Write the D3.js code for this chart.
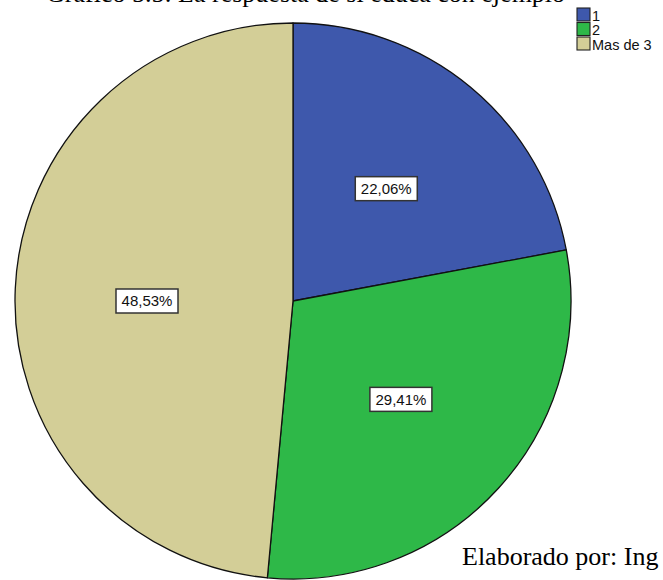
<!DOCTYPE html>
<html>
<head>
<meta charset="utf-8">
<script src="https://cdn.jsdelivr.net/npm/d3@7"></script>
<style>
  body { margin: 0; background: #fff; }
</style>
</head>
<body>
<div id="chart"></div>
<script>
////////////////////////////////////////////////////////////////////////
// Data

let categories = ["1", "2", "Mas de 3"];
let percents = [22.06, 29.41, 48.53];
let labels = ["22,06%", "29,41%", "48,53%"];
let titleText = "Gráfico 5.5: La respuesta de si educa con ejemplo";
let footerText = "Elaborado por: Ing";

////////////////////////////////////////////////////////////////////////
// Layout

let width = 663;
let height = 580;
let cx = 293, cy = 301, radius = 278;
let labelRadius = 146;
// SPSS put the big slice's label level with the centre
let labelAngleOverride = { "Mas de 3": 3 * Math.PI / 2 };

let colormap = d3.scaleOrdinal(categories, ["#3E58AC", "#2EB848", "#D3CE97"]);

let svg = d3.select("#chart")
  .append("svg")
  .attr("width", width).attr("height", height);

// title, clipped by the top of the page
svg.append("text")
  .attr("x", 46)
  .attr("y", 2)
  .style("font-family", "'Liberation Serif', 'Times New Roman', serif")
  .style("font-size", "26px")
  .text(titleText);

////////////////////////////////////////////////////////////////////////
// Pie

let pie = d3.pie()
  .value(function(d) { return d.value; })
  .sort(null);

let slices = pie(categories.map(function(c, i) {
  return { name: c, value: percents[i], label: labels[i] };
}));

let arc = d3.arc().innerRadius(0).outerRadius(radius);

let g = svg.append("g")
  .attr("transform", "translate(" + cx + "," + cy + ")");

g.selectAll(".slice")
  .data(slices)
  .enter()
  .append("path")
  .attr("class", "slice")
  .attr("d", arc)
  .style("fill", function(d) { return colormap(d.data.name); })
  .style("stroke", "#111")
  .style("stroke-width", 1.3)
  .style("stroke-linejoin", "round");

// labels in white boxes
let labelG = g.selectAll(".label")
  .data(slices)
  .enter()
  .append("g")
  .attr("class", "label")
  .attr("transform", function(d) {
    let a = labelAngleOverride[d.data.name];
    if (a === undefined) a = (d.startAngle + d.endAngle) / 2;
    let x = labelRadius * Math.sin(a);
    let y = -labelRadius * Math.cos(a);
    return "translate(" + x + "," + y + ")";
  });

labelG.append("rect")
  .attr("x", -31).attr("y", -12)
  .attr("width", 62).attr("height", 24)
  .style("fill", "#fff")
  .style("stroke", "#333")
  .style("stroke-width", 1.5);

labelG.append("text")
  .attr("text-anchor", "middle")
  .attr("dy", "0.36em")
  .style("font-family", "'Liberation Sans', Arial, sans-serif")
  .style("font-size", "15px")
  .style("fill", "#111")
  .text(function(d) { return d.data.label; });

////////////////////////////////////////////////////////////////////////
// Legend

let legend = svg.append("g")
  .attr("transform", "translate(577, 8)");

let item = legend.selectAll(".legend-item")
  .data(categories)
  .enter()
  .append("g")
  .attr("class", "legend-item")
  .attr("transform", function(d, i) { return "translate(0," + (i * 14.5) + ")"; });

item.append("rect")
  .attr("width", 13).attr("height", 13)
  .style("fill", function(d) { return colormap(d); })
  .style("stroke", "#222")
  .style("stroke-width", 1.1);

item.append("text")
  .attr("x", 15)
  .attr("y", 12.5)
  .style("font-family", "'Liberation Sans', Arial, sans-serif")
  .style("font-size", "14.5px")
  .style("fill", "#111")
  .text(function(d) { return d; });

// footer note
svg.append("text")
  .attr("x", 462)
  .attr("y", 565)
  .style("font-family", "'Liberation Serif', 'Times New Roman', serif")
  .style("font-size", "26px")
  .text(footerText);
</script>
</body>
</html>
